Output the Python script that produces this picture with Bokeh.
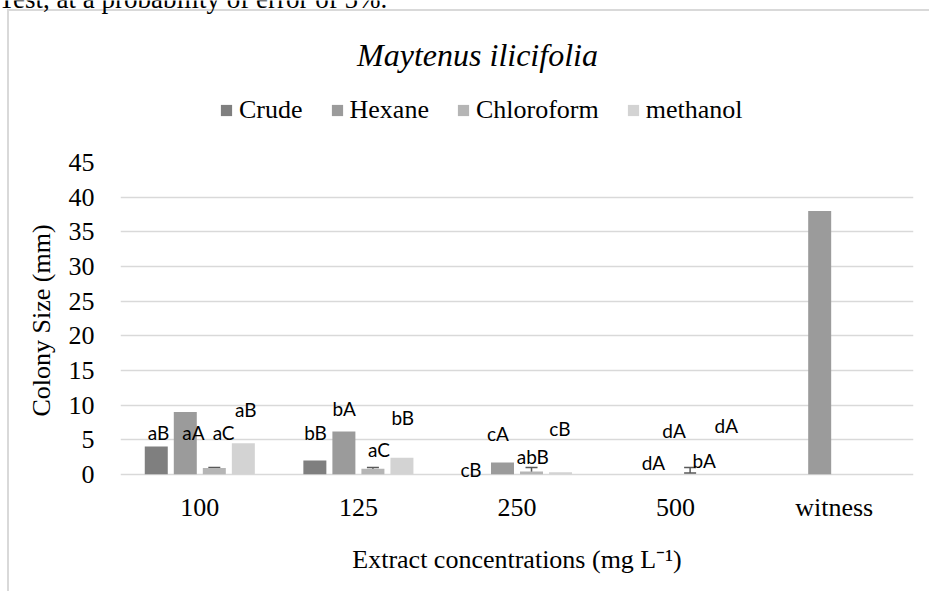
from bokeh.plotting import figure
from bokeh.layouts import column
from bokeh.models import (ColumnDataSource, FixedTicker, Legend, LegendItem,
                          Whisker, TeeHead)
from bokeh.embed import file_html
from bokeh.resources import INLINE
from bokeh.core.properties import value

# ---------------- data ----------------
title_text = "Maytenus ilicifolia"
caption_text = "Test, at a probability of error of 5%."
categories = ["100", "125", "250", "500", "witness"]
series = ["Crude", "Hexane", "Chloroform", "methanol"]
crude = [4.0, 2.0, 0.0, 0.0, 0.0]
hexane = [9.0, 6.2, 1.7, 0.0, 38.0]
chloroform = [0.9, 0.8, 0.4, 0.0, 0.0]
methanol = [4.5, 2.4, 0.3, 0.0, 0.0]
values_by_series = [crude, hexane, chloroform, methanol]
colors = ["#7f7f7f", "#9b9b9b", "#b5b5b5", "#d3d3d3"]

# error bars (on Chloroform bars of the first four concentrations)
err_index = [0, 1, 2, 3]
err_lower = [0.2, 0.2, 0.2, 0.2]
err_upper = [1.0, 1.0, 1.0, 1.0]

# significance letters per series (first four concentrations)
crude_letters = ["aB", "bB", "cB", "dA"]
hexane_letters = ["aA", "bA", "cA", "dA"]
chloroform_letters = ["aC", "aC", "abB", "bA"]
methanol_letters = ["aB", "bB", "cB", "dA"]
letters_by_series = [crude_letters, hexane_letters, chloroform_letters, methanol_letters]

# letter placement (data-unit height and offset from category centre)
crude_label_y = [6.05, 6.05, 0.71, 1.72]
hexane_label_y = [6.05, 9.51, 5.9, 6.33]
chloroform_label_y = [6.05, 3.59, 2.58, 2.0]
methanol_label_y = [9.36, 8.21, 6.62, 7.06]
label_y_by_series = [crude_label_y, hexane_label_y, chloroform_label_y, methanol_label_y]
crude_label_dx = [-0.26, -0.27, -0.29, -0.14]
hexane_label_dx = [-0.04, -0.09, -0.12, -0.01]
chloroform_label_dx = [0.15, 0.13, 0.10, 0.18]
methanol_label_dx = [0.29, 0.28, 0.27, 0.32]
label_dx_by_series = [crude_label_dx, hexane_label_dx, chloroform_label_dx, methanol_label_dx]

y_ticks = list(range(0, 46, 5))

# ---------------- layout constants ----------------
W = 929
HEAD_H = 140
MAIN_H = 451
STEP = 0.183
BAR_W = 0.145
SERIF = "Liberation Serif"

# ---------------- header (caption, title, legend) ----------------
head = figure(width=W, height=HEAD_H, x_range=(0, W), y_range=(HEAD_H, 0),
              output_backend="svg", toolbar_location=None, min_border=0)
head.frame_align = False
head.axis.visible = False
head.grid.visible = False
head.outline_line_color = None
head.border_fill_color = None
head.background_fill_color = None

head.text(x=[-2], y=[-2], text=[caption_text], text_font=value(SERIF),
          text_font_size="27px", text_align="left", text_baseline="alphabetic",
          text_color="black")
head.text(x=[477], y=[54], text=[title_text], text_font=value(SERIF),
          text_font_size="32px", text_font_style="italic", text_align="center",
          text_baseline="middle", text_color="black")

items = []
for name, c in zip(series, colors):
    # zero-height placeholder bar: only used to draw the legend swatch
    r = head.vbar(x=[0], top=[0], bottom=[0], width=0, fill_color=c, line_color=None)
    items.append(LegendItem(label=name, renderers=[r]))
legend = Legend(items=items, orientation="horizontal", location=(219, 15),
                padding=0, margin=0, spacing=27, glyph_width=14, glyph_height=14,
                label_standoff=6, label_text_font=SERIF, label_text_font_size="26px",
                label_text_color="black", label_text_baseline="middle",
                border_line_color=None, background_fill_alpha=0)
head.add_layout(legend)

# ---------------- main chart ----------------
p = figure(width=W, height=MAIN_H, x_range=(-0.5, 4.5), y_range=(-0.6, 45),
           output_backend="svg", toolbar_location=None,
           min_border_left=120, min_border_right=16,
           min_border_top=22, min_border_bottom=113)
p.border_fill_color = None
p.background_fill_color = "white"
p.outline_line_color = None

for i, vals in enumerate(values_by_series):
    xs = [j + (i - 1.5) * STEP for j in range(len(categories))]
    src = ColumnDataSource(dict(x=xs, top=vals))
    p.vbar(x="x", top="top", width=BAR_W, source=src,
           fill_color=colors[i], line_color=None)

wsrc = ColumnDataSource(dict(base=[k + 0.5 * STEP for k in err_index],
                             lower=err_lower, upper=err_upper))
tee = dict(size=12, line_color="#595959", line_width=1.5)
p.add_layout(Whisker(base="base", lower="lower", upper="upper", source=wsrc,
                     dimension="height", line_color="#595959", line_width=1.5,
                     upper_head=TeeHead(**tee), lower_head=TeeHead(**tee)))

for letters, ly, ldx in zip(letters_by_series, label_y_by_series, label_dx_by_series):
    xs = [k + d for k, d in zip(err_index, ldx)]
    p.text(x=xs, y=ly, text=letters, text_font=value("Lato"),
           text_font_size="19px", text_align="center", text_baseline="middle",
           text_color="black")

p.xaxis.ticker = FixedTicker(ticks=list(range(len(categories))))
p.xaxis.major_label_overrides = {i: c for i, c in enumerate(categories)}
p.yaxis.ticker = FixedTicker(ticks=y_ticks)
for ax in (p.xaxis, p.yaxis):
    ax.axis_line_color = None
    ax.major_tick_line_color = None
    ax.minor_tick_line_color = None
    ax.major_tick_out = 0
    ax.major_tick_in = 0
    ax.major_label_text_font = SERIF
    ax.major_label_text_font_size = "26px"
    ax.major_label_text_color = "black"
    ax.axis_label_text_font = SERIF
    ax.axis_label_text_font_size = "26px"
    ax.axis_label_text_font_style = "normal"
    ax.axis_label_text_color = "black"
p.xaxis.axis_label = "Extract concentrations (mg L\u207b\u00b9)"
p.yaxis.axis_label = "Colony Size (mm)"
p.yaxis.major_label_standoff = 26
p.xaxis.major_label_standoff = 14
p.xaxis.axis_label_standoff = 20
p.yaxis.axis_label_standoff = 10

p.xgrid.visible = False
p.ygrid.grid_line_color = "#d9d9d9"
p.ygrid.grid_line_width = 1.5

layout = column(head, p, spacing=0)
layout.styles = {
    "background-color": "white",
    "background-image": "linear-gradient(#d9d9d9, #d9d9d9), linear-gradient(#d9d9d9, #d9d9d9)",
    "background-size": "2px 100%, 100% 2px",
    "background-position": "7px 9px, 7px 9px",
    "background-repeat": "no-repeat",
}

open("out.html", "w").write(file_html(layout, INLINE))
